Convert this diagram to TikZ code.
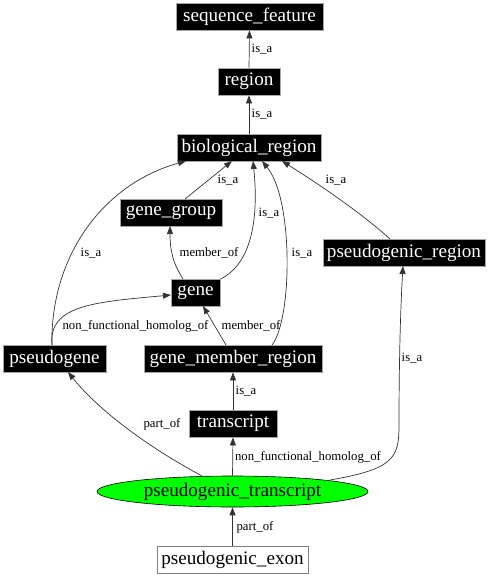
\documentclass[tikz,border=0pt]{standalone}
\usepackage{fontspec}
\setmainfont{Liberation Serif}
\usetikzlibrary{arrows.meta,shapes.geometric}
\begin{document}
\begin{tikzpicture}[x=1bp,y=-1bp,
  blk/.style={draw=gray!70,line width=0.8bp,fill=black,text=white,inner sep=0pt,minimum height=27bp,font=\fontsize{19.2}{20}\selectfont},
  wht/.style={draw=gray,line width=1bp,fill=white,text=black,inner sep=0pt,minimum height=27bp,font=\fontsize{19.2}{20}\selectfont},
  ell/.style={ellipse,draw=black,line width=0.6bp,fill=green,inner sep=0pt,minimum width=271bp,minimum height=31bp,font=\fontsize{19.2}{20}\selectfont},
  lbl/.style={inner sep=0pt,font=\fontsize{12.8}{14}\selectfont},
  edge/.style={draw=black!80,line width=0.7bp,-{Triangle[length=8bp,width=6bp]}},
]
\useasboundingbox (0,0) rectangle (491,576);
% nodes
\node[blk,minimum width=147bp] (sf) at (249.5,16.5) {sequence\_feature};
\node[blk,minimum width=62bp] (reg) at (249,81.5) {region};
\node[blk,minimum width=144bp] (bio) at (249,147.5) {biological\_region};
\node[blk,minimum width=102bp] (gg) at (171,212.5) {gene\_group};
\node[blk,minimum width=162bp] (pr) at (404,252.5) {pseudogenic\_region};
\node[blk,minimum width=49bp] (gene) at (195.5,292.5) {gene};
\node[blk,minimum width=103bp] (pg) at (54.5,358.5) {pseudogene};
\node[blk,minimum width=178bp] (gmr) at (233,358.5) {gene\_member\_region};
\node[blk,minimum width=88bp] (tr) at (233,423.5) {transcript};
\node[ell] (pt) at (232.5,491.5) {pseudogenic\_transcript};
\node[wht,minimum width=151bp] (pe) at (232.5,559.5) {pseudogenic\_exon};
% edge anchor coordinates
\coordinate (pgtop) at (52,345);
% edges
\draw[edge] (reg.north) -- (sf.south);
\node[lbl] (l1) at (262,49) {is\_a};
\draw[edge] (bio.north) -- (reg.south);
\node[lbl] (l2) at (262,114) {is\_a};
\draw[edge] (185,199) -- (232,161);
\node[lbl] (l3) at (228,180) {is\_a};
\draw[edge] (pgtop) .. controls (50,260) and (100,185) .. (186,161);
\node[lbl] (l4) at (91,253) {is\_a};
\draw[edge] (220.5,279) .. controls (255,262) and (258,210) .. (253,161);
\node[lbl] (l5) at (269,213) {is\_a};
\draw[edge] (272,345) .. controls (292,320) and (294,200) .. (262,161);
\node[lbl] (l6) at (302,253) {is\_a};
\draw[edge] (390,239) .. controls (360,212) and (320,185) .. (282,161);
\node[lbl] (l7) at (336,180) {is\_a};
\draw[edge] (183,279) .. controls (172,262) and (170,248) .. (170,226);
\node[lbl] (l8) at (209,253) {member\_of};
\draw[edge] (pgtop) .. controls (48,305) and (95,302) .. (171,295);
\node[lbl] (l9) at (135.5,326) {non\_functional\_homolog\_of};
\draw[edge] (226,345) -- (203,306);
\node[lbl] (l10) at (251,326) {member\_of};
\draw[edge] (tr.north) -- (gmr.south);
\node[lbl] (l11) at (246,391) {is\_a};
\draw[edge] (pt.north) -- (tr.south);
\node[lbl] (l12) at (308,457) {non\_functional\_homolog\_of};
\draw[edge] (202,476) .. controls (150,448) and (100,412) .. (68,372);
\node[lbl] (l13) at (162,424) {part\_of};
\draw[edge] (330,480) .. controls (394,469) and (399,458) .. (399,425) .. controls (399,350) and (401,300) .. (403,266);
\node[lbl] (l14) at (412,358) {is\_a};
\draw[edge] (pe.north) -- (pt.south);
\node[lbl] (l15) at (255,527) {part\_of};
\end{tikzpicture}
\end{document}
